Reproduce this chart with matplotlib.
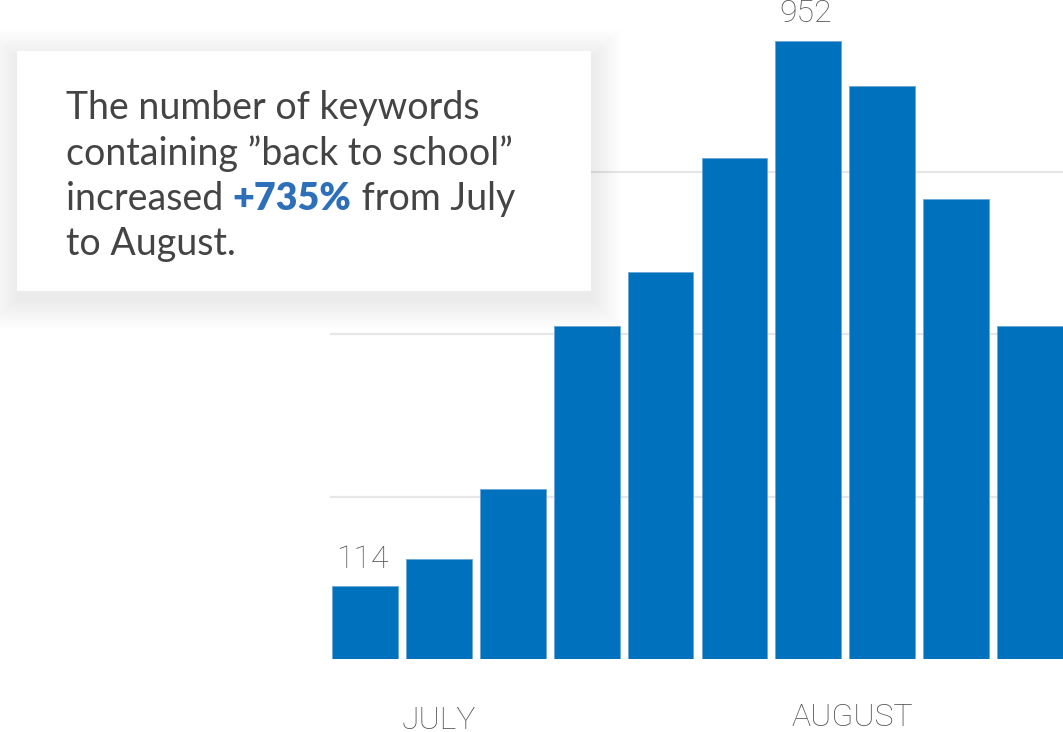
import matplotlib
matplotlib.use("Agg")
from matplotlib import pyplot as plt
from matplotlib.patches import Rectangle

# weekly counts of keywords containing "back to school"
weeks = list(range(10))
counts = [112, 154, 262, 513, 596, 772, 952, 883, 709, 513]
grid_values = [250, 500, 750]
month_labels = ["JULY", "AUGUST"]
month_positions = [1.0, 6.6]
labelled = {0: "114", 6: "952"}

bar_color = "#0071bc"
text_color = "#444444"
label_color = "#555555"

fig = plt.figure(figsize=(10.63, 7.32), dpi=100)
ax = fig.add_axes([330 / 1063, 73 / 732, 733 / 1063, 659 / 732])

ax.bar(weeks, counts, width=0.89, color=bar_color, edgecolor="#6aa6d6",
       linewidth=0.6, zorder=3)
for v in grid_values:
    ax.axhline(v, color="#e6e6e6", linewidth=1.6, zorder=1)

ax.set_xlim(-0.473, 9.446)
ax.set_ylim(0, 1015)
for s in ax.spines.values():
    s.set_visible(False)
ax.set_xticks([])
ax.set_yticks([])

lab = dict(fontsize=23, color=label_color, family="Roboto", fontweight="light")
# month labels (JULY sits a little lower in the reference)
ax.annotate(month_labels[0], (month_positions[0], 0), xycoords=("data", "axes fraction"),
            xytext=(0, -33.5), textcoords="offset points", ha="center", va="top", **lab)
ax.annotate(month_labels[1], (month_positions[1], 0), xycoords=("data", "axes fraction"),
            xytext=(0, -31.5), textcoords="offset points", ha="center", va="top", **lab)

for i, txt in labelled.items():
    ax.annotate(txt, (weeks[i], counts[i]), xytext=(-2, 9),
                textcoords="offset points", ha="center", va="bottom", **lab)

# soft shadowed callout box
bx, by, bw, bh = 17 / 1063, (732 - 291) / 732, 574 / 1063, 240 / 732
for k in range(20, 0, -1):
    d = k * 1.5
    fig.patches.append(Rectangle((bx - d / 1063, by - (d + 8) / 732),
                                 bw + 2 * d / 1063, bh + 2 * d / 732,
                                 transform=fig.transFigure, facecolor="#000000",
                                 alpha=0.0045, edgecolor="none", zorder=5))
fig.patches.append(Rectangle((bx, by), bw, bh, transform=fig.transFigure,
                             facecolor="white", edgecolor="none", zorder=6))

fs = 27
lx = 66 / 1063
base_px = [119, 165, 210, 255]
kw = dict(fontsize=fs, color=text_color, family="Lato", va="baseline", zorder=7)
fig.text(lx, 1 - base_px[0] / 732, "The number of keywords", **kw)
fig.text(lx, 1 - base_px[1] / 732, "containing \u201dback to school\u201d", **kw)
t1 = fig.text(lx, 1 - base_px[2] / 732, "increased ", **kw)
t2 = fig.text(0, 0, "+735%", fontsize=fs, color="#2e6fba", family="Lato",
              fontweight="heavy", va="baseline", zorder=7)
t3 = fig.text(0, 0, " from July", **kw)
fig.text(lx, 1 - base_px[3] / 732, "to August.", **kw)

renderer = fig.canvas.get_renderer()
e1 = t1.get_window_extent(renderer)
t2.set_position((e1.x1 / fig.bbox.width, t1.get_position()[1]))
e2 = t2.get_window_extent(renderer)
t3.set_position((e2.x1 / fig.bbox.width, t1.get_position()[1]))

fig.savefig("out.png", dpi=100)
